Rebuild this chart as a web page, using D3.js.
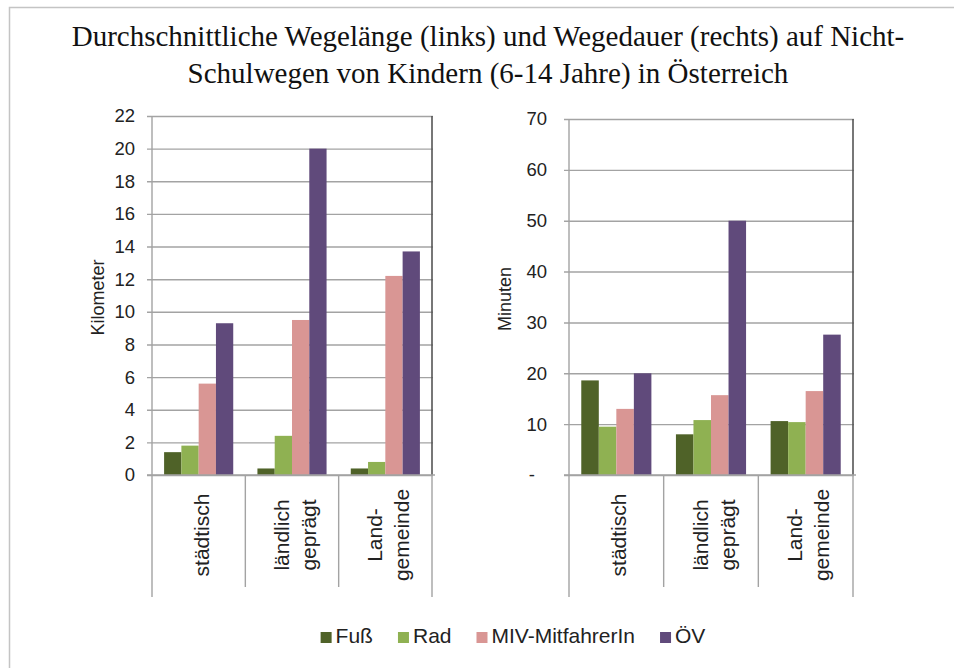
<!DOCTYPE html>
<html>
<head>
<meta charset="utf-8">
<script src="https://cdn.jsdelivr.net/npm/d3@7"></script>
<style>
  html, body { margin: 0; padding: 0; background: #fff; }
  svg { display: block; }
</style>
</head>
<body>
<svg id="chart" width="954" height="668"></svg>
<script>
// Kategorien (Gemeindetyp) und Verkehrsmittel
const categories = ["städtisch", "ländlich\ngeprägt", "Land-\ngemeinde"];
const modes = ["Fuß", "Rad", "MIV-MitfahrerIn", "ÖV"];
const modeColors = ["#4f6228", "#8fb152", "#d99694", "#604a7b"];

// Durchschnittliche Wegelänge in Kilometer
const kmFuss = [1.4, 0.4, 0.4];
const kmRad = [1.8, 2.4, 0.8];
const kmMIV = [5.6, 9.5, 12.2];
const kmOEV = [9.3, 20.0, 13.7];

// Durchschnittliche Wegedauer in Minuten
const minFuss = [18.6, 8.0, 10.6];
const minRad = [9.5, 10.8, 10.4];
const minMIV = [13.0, 15.7, 16.5];
const minOEV = [20.0, 50.0, 27.6];

// Achsenbeschriftungen
const kmTicks = [0, 2, 4, 6, 8, 10, 12, 14, 16, 18, 20, 22];
const minTicks = [0, 10, 20, 30, 40, 50, 60, 70];

const titleLines = [
  "Durchschnittliche Wegelänge (links) und Wegedauer (rechts) auf Nicht-",
  "Schulwegen von Kindern (6-14 Jahre) in Österreich"
];

const svg = d3.select("#chart");
const SANS = "'Liberation Sans', Arial, sans-serif";

// Rahmen oben und links
svg.append("path")
  .attr("d", "M9.5,668 V7.5 H954")
  .attr("fill", "none").attr("stroke", "#c4c4c4").attr("stroke-width", 1.5);

// Titel
svg.append("text")
  .attr("x", 488).attr("y", 46)
  .attr("text-anchor", "middle")
  .attr("font-family", "'Liberation Serif', 'Times New Roman', serif")
  .attr("font-size", 29).attr("fill", "#111")
  .selectAll("tspan").data(titleLines).join("tspan")
  .attr("x", 488).attr("dy", (d, i) => i === 0 ? 0 : 37)
  .text(d => d);

function drawPanel(cfg) {
  const { left, right, top, bottom, ticks, series, axisTitle, titleX, zeroDash, labelPad } = cfg;
  const g = svg.append("g");

  const y = d3.scaleLinear().domain([0, d3.max(ticks)]).range([bottom, top]);
  const xCat = d3.scaleBand().domain(d3.range(categories.length)).range([left, right]).padding(0);
  const band = xCat.bandwidth();
  const halfGap = band * 0.35 / 1.35 / 2;
  const xMode = d3.scaleBand().domain(d3.range(modes.length)).range([halfGap, band - halfGap]).padding(0);

  // Gitterlinien über die Werteachse
  const yAxis = d3.axisLeft(y)
    .tickValues(ticks)
    .tickSize(-(right - left + 6))
    .tickPadding(labelPad)
    .tickFormat(d => (d === 0 && zeroDash) ? "-" : d);
  const ya = g.append("g").attr("transform", `translate(${left - 5},0)`).call(yAxis);
  ya.select(".domain").remove();
  ya.selectAll(".tick line").attr("stroke", "#a3a3a3").attr("stroke-width", 1.4);
  ya.selectAll(".tick text")
    .attr("font-family", SANS).attr("font-size", 18.5).attr("fill", "#222");
  if (zeroDash) {
    ya.selectAll(".tick").filter(d => d === 0).select("text").attr("dx", -12);
  }

  // Balken
  const rows = categories.map((c, ci) => series.map((s, si) => ({ ci, si, v: s[ci] }))).flat();
  g.append("g").selectAll("rect").data(rows).join("rect")
    .attr("x", d => xCat(d.ci) + xMode(d.si))
    .attr("width", xMode.bandwidth())
    .attr("y", d => y(d.v))
    .attr("height", d => y(0) - y(d.v))
    .attr("fill", d => modeColors[d.si]);

  // Werteachse links und dunkler Rand rechts
  g.append("line").attr("x1", left).attr("x2", left).attr("y1", top).attr("y2", bottom + 122)
    .attr("stroke", "#a3a3a3").attr("stroke-width", 1.4);
  g.append("line").attr("x1", right).attr("x2", right).attr("y1", top).attr("y2", bottom)
    .attr("stroke", "#555").attr("stroke-width", 1.6);
  g.append("line").attr("x1", right).attr("x2", right).attr("y1", bottom).attr("y2", bottom + 122)
    .attr("stroke", "#a3a3a3").attr("stroke-width", 1.4);
  g.append("line").attr("x1", left - 5).attr("x2", right + 3).attr("y1", bottom).attr("y2", bottom)
    .attr("stroke", "#a3a3a3").attr("stroke-width", 1.4);

  // Trennlinien der Kategorien
  g.append("g").selectAll("line").data(d3.range(1, categories.length)).join("line")
    .attr("x1", d => xCat(d)).attr("x2", d => xCat(d))
    .attr("y1", bottom).attr("y2", bottom + 112)
    .attr("stroke", "#a3a3a3").attr("stroke-width", 1.4);

  // Kategorienbeschriftung (gedreht)
  const lineGap = 27;
  categories.forEach((c, ci) => {
    const lines = c.split("\n");
    const cx = xCat(ci) + band / 2;
    lines.forEach((ln, li) => {
      const bx = cx + 10 + (li - (lines.length - 1) / 2) * lineGap;
      g.append("text")
        .attr("transform", `translate(${bx},${bottom + 60}) rotate(-90)`)
        .attr("text-anchor", "middle")
        .attr("font-family", SANS).attr("font-size", 21).attr("fill", "#222")
        .text(ln);
    });
  });

  // Achsentitel
  g.append("text")
    .attr("transform", `translate(${titleX},${(top + bottom) / 2 + 2}) rotate(-90)`)
    .attr("text-anchor", "middle")
    .attr("font-family", SANS).attr("font-size", 18).attr("fill", "#222")
    .text(axisTitle);
}

drawPanel({
  left: 152, right: 432, top: 116, bottom: 475,
  ticks: kmTicks, series: [kmFuss, kmRad, kmMIV, kmOEV],
  axisTitle: "Kilometer", titleX: 104, zeroDash: false, labelPad: 12
});

drawPanel({
  left: 569, right: 853, top: 119, bottom: 475,
  ticks: minTicks, series: [minFuss, minRad, minMIV, minOEV],
  axisTitle: "Minuten", titleX: 511, zeroDash: true, labelPad: 17
});

// Legende
const legend = svg.append("g");
let lx = 0;
modes.forEach((m, i) => {
  const it = legend.append("g");
  it.append("rect").attr("x", 0).attr("y", -11).attr("width", 11).attr("height", 11)
    .attr("fill", modeColors[i]);
  const t = it.append("text").attr("x", 15).attr("y", 0)
    .attr("font-family", SANS).attr("font-size", 21).attr("fill", "#222").text(m);
  const w = 15 + t.node().getComputedTextLength();
  it.attr("transform", `translate(${lx},0)`);
  lx += w + 25;
});
const totalW = lx - 25;
legend.attr("transform", `translate(${513 - totalW / 2},643)`);
</script>
</body>
</html>
